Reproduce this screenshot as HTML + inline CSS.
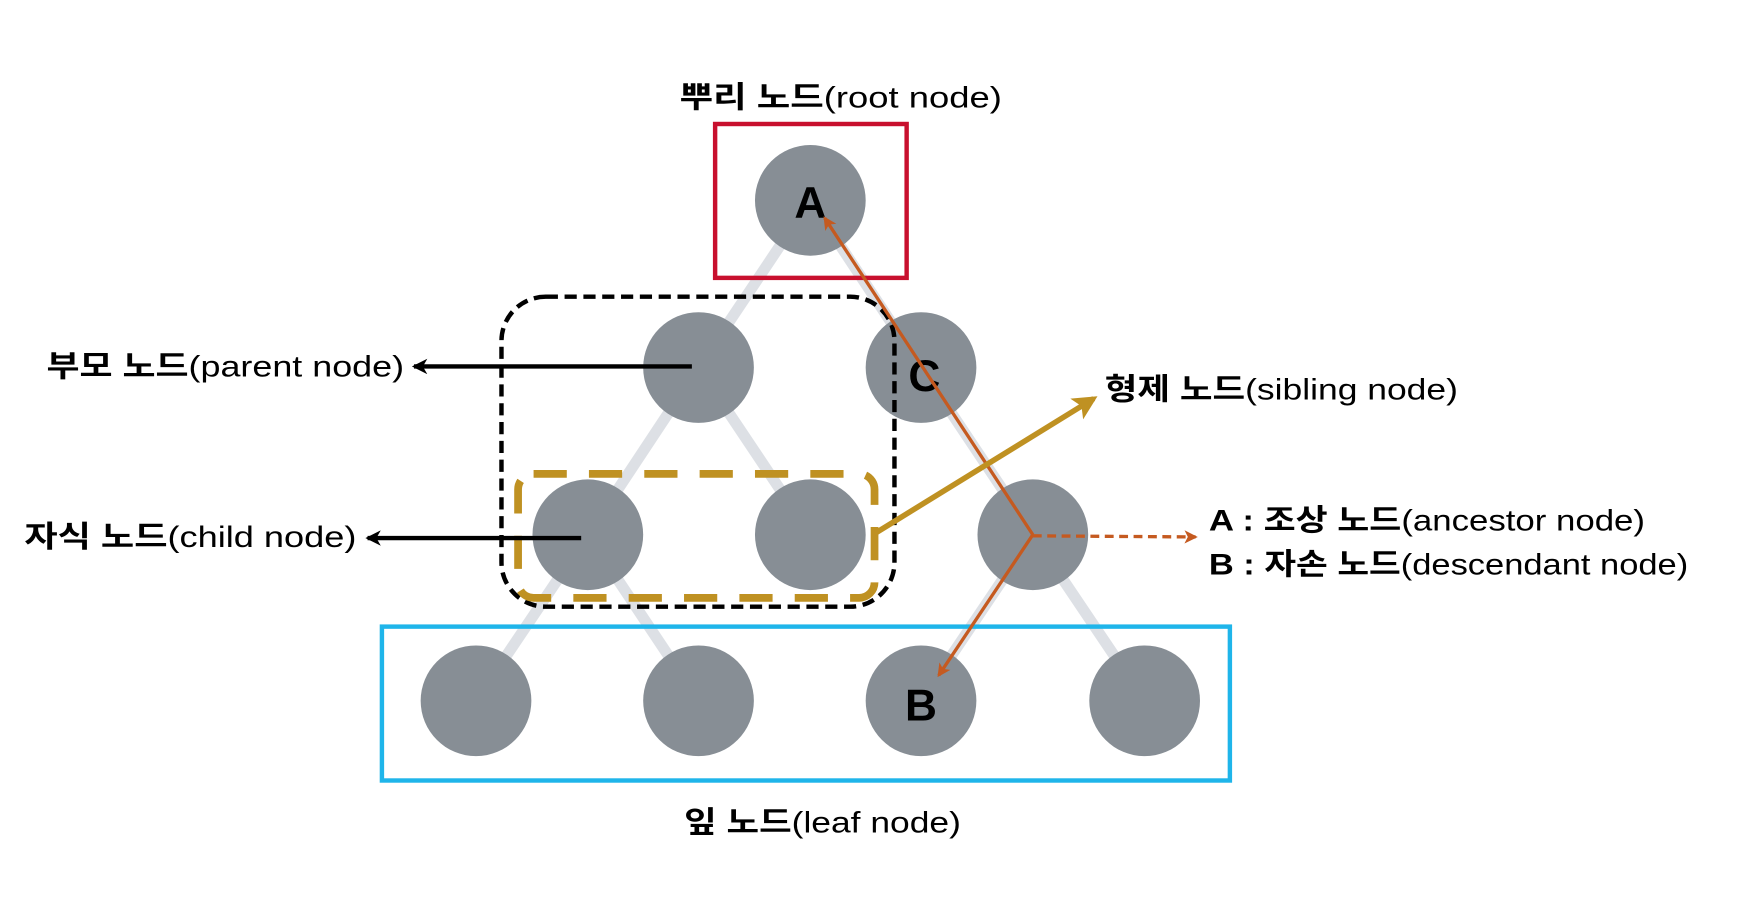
<!DOCTYPE html>
<html><head><meta charset="utf-8"><style>
html,body{margin:0;padding:0;background:#fff;}
svg{display:block;}
text{font-family:"Liberation Sans","Noto Sans CJK KR",sans-serif;font-size:27px;fill:#000;}
.k{font-weight:bold;}
.L{font-weight:bold;font-size:40px;}
</style></head><body>
<svg width="1738" height="920" viewBox="0 0 1570 831" preserveAspectRatio="none" xmlns="http://www.w3.org/2000/svg">
<defs>
<marker id="ab" markerWidth="14" markerHeight="14" refX="12" refY="7" orient="auto" markerUnits="userSpaceOnUse"><path d="M0,0 L14,7 L0,14 L4,7 z" fill="#000"/></marker>
<marker id="ao" markerWidth="12" markerHeight="12" refX="10" refY="6" orient="auto" markerUnits="userSpaceOnUse"><path d="M0,0 L12,6 L0,12 L3,6 z" fill="#c55a20"/></marker>
<marker id="ag" markerWidth="22" markerHeight="22" refX="18" refY="11" orient="auto" markerUnits="userSpaceOnUse"><path d="M0,0 L22,11 L0,22 L5,11 z" fill="#bf9122"/></marker>
</defs>
<g stroke="#dde0e5" stroke-width="10">
<line x1="732" y1="181" x2="631" y2="332"/><line x1="732" y1="181" x2="832" y2="332"/>
<line x1="631" y1="332" x2="531" y2="483"/><line x1="631" y1="332" x2="732" y2="483"/>
<line x1="832" y1="332" x2="933" y2="483"/>
<line x1="531" y1="483" x2="430" y2="633"/><line x1="531" y1="483" x2="631" y2="633"/>
<line x1="933" y1="483" x2="832" y2="633"/><line x1="933" y1="483" x2="1034" y2="633"/>
</g>
<g fill="#878e95">
<circle cx="732" cy="181" r="50"/>
<circle cx="631" cy="332" r="50"/><circle cx="832" cy="332" r="50"/>
<circle cx="531" cy="483" r="50"/><circle cx="732" cy="483" r="50"/><circle cx="933" cy="483" r="50"/>
<circle cx="430" cy="633" r="50"/><circle cx="631" cy="633" r="50"/><circle cx="832" cy="633" r="50"/><circle cx="1034" cy="633" r="50"/>
</g>
<rect x="646" y="112" width="173" height="139" fill="none" stroke="#c8102e" stroke-width="4"/>
<rect x="345" y="566" width="766" height="139" fill="none" stroke="#1fb5ea" stroke-width="4"/>
<rect x="453" y="268" width="355" height="280" rx="40" fill="none" stroke="#000" stroke-width="4" stroke-dasharray="11,6"/>
<rect x="468" y="428" width="322" height="112" rx="14" fill="none" stroke="#bf9122" stroke-width="7" stroke-dasharray="30,20"/>
<text class="L" x="732" y="197" text-anchor="middle">A</text>
<text class="L" x="835" y="353" text-anchor="middle">C</text>
<text class="L" x="832" y="651" text-anchor="middle">B</text>
<line x1="625" y1="331" x2="374" y2="331" stroke="#000" stroke-width="4" marker-end="url(#ab)"/>
<line x1="525" y1="486" x2="332" y2="486" stroke="#000" stroke-width="4" marker-end="url(#ab)"/>
<line x1="933" y1="483" x2="745" y2="197" stroke="#c55a20" stroke-width="3" marker-end="url(#ao)"/>
<line x1="933" y1="483" x2="848" y2="610" stroke="#c55a20" stroke-width="3" marker-end="url(#ao)"/>
<line x1="933" y1="484" x2="1080" y2="485" stroke="#c55a20" stroke-width="3" stroke-dasharray="8,5" marker-end="url(#ao)"/>
<line x1="790" y1="482" x2="988" y2="360" stroke="#bf9122" stroke-width="5" marker-end="url(#ag)"/>
<text x="614" y="97" textLength="291" lengthAdjust="spacingAndGlyphs"><tspan class="k">뿌리 노드</tspan>(root node)</text>
<text x="42" y="340" textLength="323" lengthAdjust="spacingAndGlyphs"><tspan class="k">부모 노드</tspan>(parent node)</text>
<text x="22" y="494" textLength="300" lengthAdjust="spacingAndGlyphs"><tspan class="k">자식 노드</tspan>(child node)</text>
<text x="998" y="361" textLength="319" lengthAdjust="spacingAndGlyphs"><tspan class="k">형제 노드</tspan>(sibling node)</text>
<text x="1092" y="479" textLength="394" lengthAdjust="spacingAndGlyphs"><tspan class="k">A : 조상 노드</tspan>(ancestor node)</text>
<text x="1092" y="519" textLength="433" lengthAdjust="spacingAndGlyphs"><tspan class="k">B : 자손 노드</tspan>(descendant node)</text>
<text x="618" y="752" textLength="250" lengthAdjust="spacingAndGlyphs"><tspan class="k">잎 노드</tspan>(leaf node)</text>
</svg>
</body></html>
